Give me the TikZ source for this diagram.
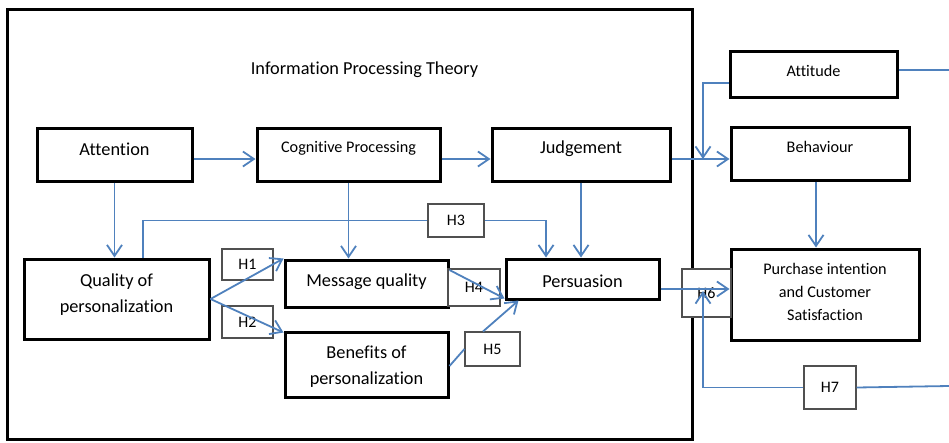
\documentclass[tikz,border=0pt]{standalone}
\usepackage{fontspec}
\setmainfont{Carlito}[Ligatures={NoCommon}]
\usetikzlibrary{arrows.meta}
\definecolor{linkblue}{RGB}{79,129,189}
\definecolor{hgray}{RGB}{80,80,80}

\begin{document}
\begin{tikzpicture}[x=1pt,y=-1pt,
  stagebox/.style={draw=black, line width=3pt, inner sep=0pt},
  hypbox/.style={draw=hgray, line width=1.1pt, fill=white, inner sep=0pt,
    font=\fontsize{16}{19}\selectfont},
  bigtxt/.style={inner sep=0pt, align=center, font=\fontsize{18.3}{26}\selectfont},
  smalltxt/.style={inner sep=0pt, align=center, font=\fontsize{16.2}{23}\selectfont},
  linkarrow/.style={draw=linkblue, line width=1.8pt,
    -{Straight Barb[length=11pt,width=15pt]}},
  linkline/.style={draw=linkblue, line width=1.8pt}]

\useasboundingbox (0,0) rectangle (949,442);

% theory frame
\node[stagebox, minimum width=685pt, minimum height=430pt] (ipt) at (349.5,224) {};
\node[bigtxt] (iptT) at (364.5,70) {Information Processing Theory};

% stage boxes
\node[stagebox, minimum width=155pt, minimum height=53pt] (att)  at (114.5,154.5) {};
\node[stagebox, minimum width=183pt, minimum height=53pt] (cog)  at (348.5,154.5) {};
\node[stagebox, minimum width=178pt, minimum height=53pt] (jud)  at (581,154.5) {};
\node[stagebox, minimum width=178pt, minimum height=53pt] (beh)  at (820,153.5) {};
\node[stagebox, minimum width=167pt, minimum height=46pt] (atti) at (813.5,74) {};
\node[stagebox, minimum width=185pt, minimum height=80pt] (qual) at (116.5,299) {};
\node[stagebox, minimum width=163pt, minimum height=47pt] (msg)  at (366.5,283.5) {};
\node[stagebox, minimum width=163pt, minimum height=65pt] (ben)  at (366.5,364.5) {};
\node[stagebox, minimum width=153pt, minimum height=40pt] (per)  at (582.5,279) {};
\node[stagebox, minimum width=188pt, minimum height=91pt] (pur)  at (825,294.5) {};

% box texts
\node[bigtxt]   (attT)  at (114.5,149) {Attention};
\node[smalltxt] (cogT)  at (348.5,148) {Cognitive Processing};
\node[bigtxt]   (judT)  at (581,149)   {Judgement};
\node[smalltxt] (behT)  at (820,147)   {Behaviour};
\node[smalltxt] (attiT) at (813.5,71)  {Attitude};
\node[bigtxt]   (qualT) at (116.5,295) {Quality of\\personalization};
\node[bigtxt]   (msgT)  at (366.5,282) {Message quality};
\node[bigtxt]   (benT)  at (366.5,367) {Benefits of\\personalization};
\node[bigtxt]   (perT)  at (582.5,281) {Persuasion};
\node[smalltxt] (purT)  at (825,292)   {Purchase intention\\and Customer\\Satisfaction};

% hypothesis boxes
\node[hypbox, minimum width=51pt, minimum height=31pt] (h1) at (247.5,264.5) {H1};
\node[hypbox, minimum width=51pt, minimum height=32pt] (h2) at (247.5,322) {H2};
\node[hypbox, minimum width=56pt, minimum height=33pt] (h3) at (456,220.5) {H3};
\node[hypbox, minimum width=52pt, minimum height=37pt] (h4) at (474,287.5) {H4};
\node[hypbox, minimum width=55pt, minimum height=34pt] (h5) at (492.5,349) {H5};
\node[hypbox, minimum width=49pt, minimum height=48pt] (h6) at (706.5,293) {H6};
\node[hypbox, minimum width=52pt, minimum height=43pt] (h7) at (830,387.5) {H7};

% free ends and junctions
\coordinate (jb)      at (703,159);
\coordinate (pjoin)   at (703,291);
\coordinate (attiOut) at (949,70);
\coordinate (h7In)    at (949,386);

% processing chain
\draw[linkarrow] (att.east |- 0,159) -- (cog.west |- 0,159);
\draw[linkarrow] (cog.east |- 0,159) -- (jud.west |- 0,159);
\draw[linkarrow] (jud.east |- 0,159) -- (beh.west |- 0,159);
\draw[linkarrow] (atti.west |- 0,83) -| (jb);
\draw[linkline]  (atti.east |- 0,70) -- (attiOut);

% vertical links
\draw[linkarrow] (att.south) -- (att.south |- qual.north);
\draw[linkarrow] (cog.south) -- (cog.south |- msg.north);
\draw[linkarrow] (jud.south) -- (jud.south |- per.north);
\draw[linkarrow] ([xshift=-4pt]beh.south) -- ([xshift=-4pt]beh.south |- pur.north);

% hypotheses
\draw[linkline]  (qual.north -| 143,0) |- (h3.west);
\draw[linkarrow] (h3.east) -| (per.north -| 546,0);
\draw[linkarrow] (qual.east |- 0,299) -- (msg.north west);
\draw[linkarrow] (qual.east |- 0,299) -- ([yshift=-2pt]ben.north west);
\draw[linkarrow] (msg.east |- 0,270) -- ([yshift=2pt]per.south west);
\draw[linkline]  (ben.east |- 0,366) -- (h5.west);
\draw[linkarrow] (h5.north -| 483,0) -- ([xshift=14pt]per.south west);
\draw[linkarrow] (per.east |- 0,289) -- (pur.west |- 0,289);
\draw[linkline]  (h7In) -- (h7.east);
\draw[linkarrow] (h7.west) -| (pjoin);

\end{tikzpicture}
\end{document}
